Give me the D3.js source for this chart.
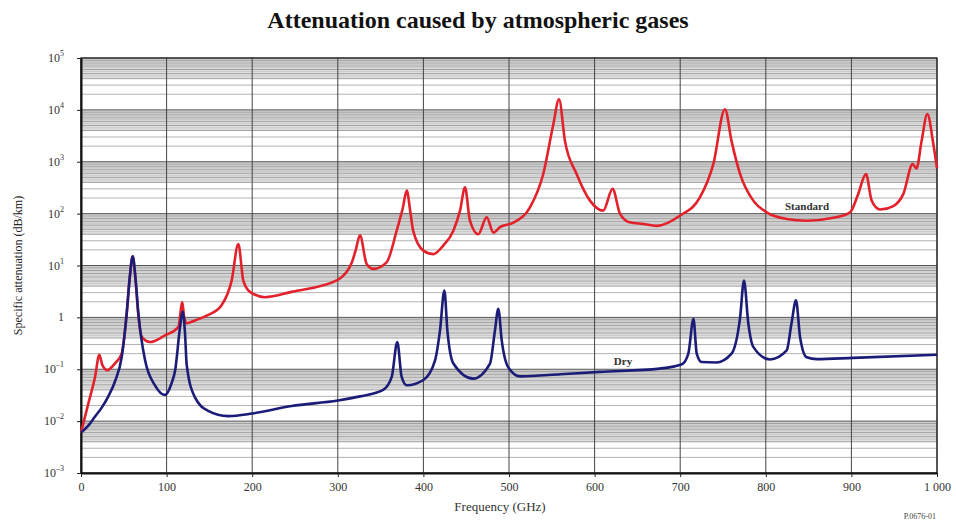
<!DOCTYPE html>
<html>
<head>
<meta charset="utf-8">
<script src="https://cdn.jsdelivr.net/npm/d3@7/dist/d3.min.js"></script>
<style>
  body { margin: 0; background: #fff; }
  svg text { font-family: "Liberation Serif", "DejaVu Serif", serif; }
</style>
</head>
<body>
<svg id="chart" width="956" height="523"></svg>
<script>
// values (GHz, dB/km)
const dryFreq = [0, 8, 16, 24, 31.5, 40, 47.5, 53.4, 57, 60.4, 63.5, 67, 74.8, 86.4, 98, 106, 110, 115.7, 118.7, 121.5,
  123.5, 133, 148, 172, 200, 246, 300, 326, 353, 363, 369.5, 374.6, 380.5, 400, 413.6, 419.4, 424.5, 428, 435, 458,
  477.8, 483.6, 487.5, 491.5, 499, 513, 560, 606, 676, 702, 709.5, 715.5, 719.3, 725, 742, 760, 770, 774.5, 779.6,
  785.4, 805, 824.4, 830, 835.3, 840, 847.8, 859.5, 902, 1000];
const dryValues = [0.006, 0.008, 0.012, 0.018, 0.029, 0.06, 0.17, 1.2, 6, 15, 6, 1.2, 0.15, 0.049, 0.032, 0.055, 0.096, 0.65, 1.3, 0.5,
  0.12, 0.029, 0.016, 0.0125, 0.014, 0.0195, 0.025, 0.030, 0.04, 0.071, 0.335, 0.071, 0.049, 0.062, 0.148, 0.56, 3.3, 0.56, 0.129, 0.066,
  0.129, 0.56, 1.47, 0.36, 0.11, 0.073, 0.08, 0.089, 0.103, 0.125, 0.2, 0.94, 0.2, 0.138, 0.135, 0.2, 1.0, 5.1, 0.76,
  0.27, 0.154, 0.23, 0.76, 2.14, 0.42, 0.17, 0.157, 0.166, 0.19];

const stdFreq = [0, 8.6, 16.4, 21.4, 25, 30.8, 39.7, 47.5, 53.4, 57, 60.4, 63.5, 67, 71, 80.6, 98, 113.7, 118.4, 120.5, 123.5,
  133, 148, 164, 176, 183.8, 189.6, 197.4, 215, 246, 300, 316, 321, 325.9, 333.7, 341.5, 357, 368.8, 376, 380.5, 385,
  388, 400, 411.6, 423, 435, 442.8, 448.6, 454.4, 464, 474, 481.7, 489.5, 505, 524.5, 540, 551.8, 558.4, 565.4, 579, 594.6,
  610, 621, 629.7, 641, 657, 672.5, 700, 723, 738.7, 752.3, 760, 770, 785.4, 801, 824.4, 847.8, 879, 898.4, 908, 917,
  923.7, 933.4, 949, 960.7, 971.6, 976, 982, 988.7, 995.7, 1000];
const stdValues = [0.006, 0.022, 0.071, 0.19, 0.12, 0.096, 0.13, 0.2, 1.2, 6, 15, 6, 1.1, 0.42, 0.335, 0.45, 0.65, 1.95, 1.0, 0.77,
  0.87, 1.1, 1.7, 5.1, 26, 5.1, 3.1, 2.45, 3.1, 5.3, 11, 20, 38, 10.7, 8.6, 11.5, 47, 130, 277, 100,
  47, 19.4, 16.6, 24, 47, 114, 320, 73, 40, 85, 43, 55, 67, 132, 580, 5300, 16000, 2500, 580, 178,
  114, 300, 99, 68, 63, 58, 92, 205, 900, 10300, 2500, 580, 178, 106, 79, 73, 83, 106, 240, 580,
  178, 120, 140, 240, 900, 740, 2500, 8300, 2200, 750];

const freqTicks = [0, 100, 200, 300, 400, 500, 600, 700, 800, 900, 1000];
const freqTickLabels = ['0', '100', '200', '300', '400', '500', '600', '700', '800', '900', '1 000'];
const decades = [-3, -2, -1, 0, 1, 2, 3, 4, 5];
const minorSteps = [2, 3, 4, 5, 6, 7, 8, 9];
const bandSteps = [4.5, 5.5, 6.5, 7.5, 8.5, 9.5];

const svg = d3.select('#chart');
const plotLeft = 81, plotRight = 937, plotTop = 58, plotBottom = 473;

const x = d3.scaleLinear().domain([0, 1000]).range([plotLeft, plotRight]);
const y = d3.scaleLog().domain([1e-3, 1e5]).range([plotBottom, plotTop]);

// title
svg.append('text')
  .attr('x', 478).attr('y', 28)
  .attr('text-anchor', 'middle')
  .attr('font-size', 24).attr('font-weight', 'bold')
  .attr('fill', '#111')
  .text('Attenuation caused by atmospheric gases');

const grid = svg.append('g');

// light gray band just under each decade line
decades.slice(0, -1).forEach((d) => {
  const base = Math.pow(10, d);
  grid.append('rect')
    .attr('x', plotLeft).attr('width', plotRight - plotLeft)
    .attr('y', y(base * 10)).attr('height', y(base * 4) - y(base * 10))
    .attr('fill', '#e0e0e0');
  bandSteps.forEach((m) => {
    grid.append('line')
      .attr('x1', plotLeft).attr('x2', plotRight)
      .attr('y1', y(base * m)).attr('y2', y(base * m))
      .attr('stroke', '#bdbdbd').attr('stroke-width', 0.7);
  });
  minorSteps.forEach((m) => {
    grid.append('line')
      .attr('x1', plotLeft).attr('x2', plotRight)
      .attr('y1', y(base * m)).attr('y2', y(base * m))
      .attr('stroke', m <= 3 ? '#aaaaaa' : '#999999').attr('stroke-width', 0.9);
  });
});

// decade lines
decades.forEach((d) => {
  grid.append('line')
    .attr('x1', plotLeft).attr('x2', plotRight)
    .attr('y1', y(Math.pow(10, d))).attr('y2', y(Math.pow(10, d)))
    .attr('stroke', '#555').attr('stroke-width', 1);
});

// vertical lines
freqTicks.forEach((f) => {
  grid.append('line')
    .attr('x1', x(f)).attr('x2', x(f))
    .attr('y1', plotTop).attr('y2', plotBottom)
    .attr('stroke', '#444').attr('stroke-width', 1);
});

// frame
svg.append('rect')
  .attr('x', plotLeft).attr('y', plotTop)
  .attr('width', plotRight - plotLeft).attr('height', plotBottom - plotTop)
  .attr('fill', 'none').attr('stroke', '#222').attr('stroke-width', 1.2);

// axes
const xAxis = svg.append('g')
  .attr('transform', `translate(0,${plotBottom})`)
  .call(d3.axisBottom(x).tickValues(freqTicks).tickSize(4).tickSizeOuter(0)
    .tickFormat((d, i) => freqTickLabels[i]));
xAxis.select('.domain').attr('stroke', '#111').attr('stroke-width', 2);
xAxis.selectAll('.tick line').attr('stroke', '#222');
xAxis.selectAll('.tick text')
  .attr('font-family', '"Liberation Serif", serif')
  .attr('font-size', 12).attr('fill', '#333').attr('dy', '0.9em');

const yAxis = svg.append('g')
  .attr('transform', `translate(${plotLeft},0)`)
  .call(d3.axisLeft(y).tickValues(decades.map((d) => Math.pow(10, d))).tickSize(4).tickSizeOuter(0)
    .tickFormat(''));
yAxis.select('.domain').attr('stroke', '#111').attr('stroke-width', 2);
yAxis.selectAll('.tick line').attr('stroke', '#222');

decades.forEach((d) => {
  const t = svg.append('text')
    .attr('x', 64).attr('y', y(Math.pow(10, d)) + 4)
    .attr('text-anchor', 'end')
    .attr('font-size', 12).attr('fill', '#333');
  if (d === 0) {
    t.text('1');
  } else {
    t.append('tspan').text('10');
    t.append('tspan').attr('dy', -6).attr('font-size', 8).text(d < 0 ? '\u2013' + (-d) : d);
  }
});

svg.append('text')
  .attr('transform', `translate(22,${(plotTop + plotBottom) / 2}) rotate(-90)`)
  .attr('text-anchor', 'middle')
  .attr('font-size', 12).attr('fill', '#222')
  .text('Specific attenuation (dB/km)');

svg.append('text')
  .attr('x', 500).attr('y', 511)
  .attr('text-anchor', 'middle')
  .attr('font-size', 13).attr('fill', '#333')
  .text('Frequency (GHz)');

svg.append('text')
  .attr('x', 936).attr('y', 519)
  .attr('text-anchor', 'end')
  .attr('font-size', 8).attr('fill', '#444')
  .text('P.0676-01');

// curves
const line = d3.line()
  .x((d) => x(d[0]))
  .y((d) => y(d[1]))
  .curve(d3.curveMonotoneX);

const stdData = stdFreq.map((f, i) => [f, stdValues[i]]);
const dryData = dryFreq.map((f, i) => [f, dryValues[i]]);

svg.append('path')
  .attr('d', line(stdData))
  .attr('fill', 'none').attr('stroke', '#e3212b').attr('stroke-width', 2.6)
  .attr('stroke-linejoin', 'round');

svg.append('path')
  .attr('d', line(dryData))
  .attr('fill', 'none').attr('stroke', '#1b1b78').attr('stroke-width', 2.6)
  .attr('stroke-linejoin', 'round');

// series labels
svg.append('text')
  .attr('x', 807).attr('y', 210)
  .attr('text-anchor', 'middle')
  .attr('font-size', 11).attr('font-weight', 'bold').attr('fill', '#333')
  .text('Standard');

svg.append('text')
  .attr('x', 623).attr('y', 365)
  .attr('text-anchor', 'middle')
  .attr('font-size', 11).attr('font-weight', 'bold').attr('fill', '#333')
  .text('Dry');
</script>
</body>
</html>
